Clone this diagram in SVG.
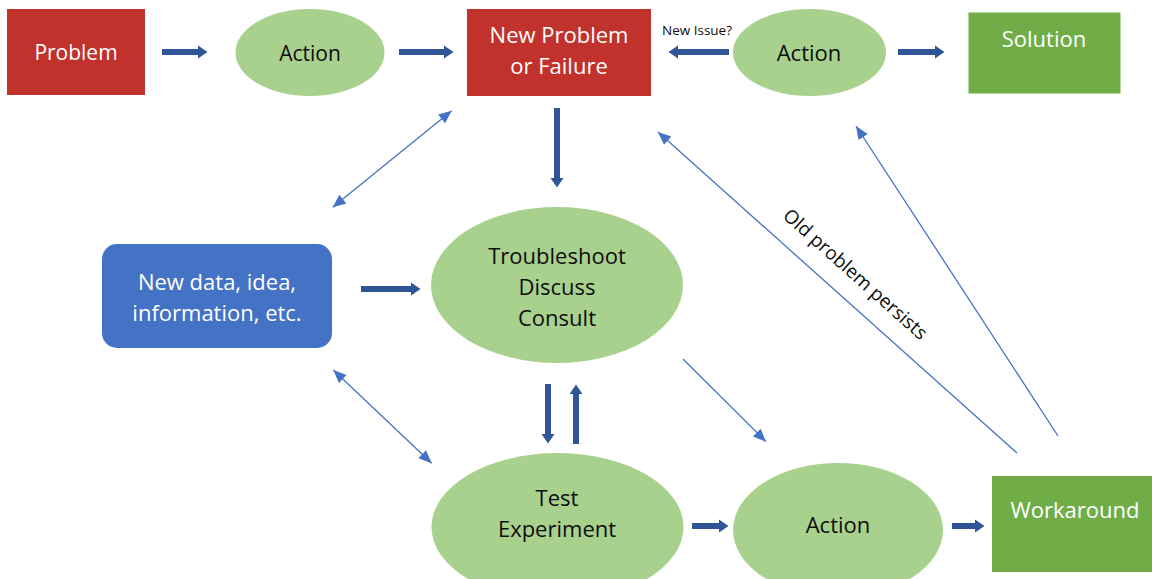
<svg xmlns="http://www.w3.org/2000/svg" width="1152" height="579" viewBox="0 0 1152 579">
  <style>
    text { font-family: "Open Sans", "Liberation Sans", sans-serif; font-size: 22px; text-anchor: middle; }
    .w { fill: #ffffff; }
    .k { fill: #0d0d0d; font-weight: 500; }
    .red { fill: #C0322B; }
    .grn { fill: #70AD47; }
    .oval { fill: #A9D18E; }
    .blk { stroke: #2F5597; stroke-width: 6; fill: none; marker-end: url(#bh); }
    .thin { stroke: #4472C4; stroke-width: 1.3; fill: none; marker-end: url(#th); }
    .both { marker-start: url(#th); }
  </style>
  <defs>
    <!-- heavy block arrow head -->
    <marker id="bh" markerUnits="userSpaceOnUse" viewBox="-1 -7 12 14" markerWidth="12" markerHeight="14" refX="0.5" refY="0" orient="auto">
      <path d="M0,-6.5 L9.5,0 L0,6.5 z" fill="#2F5597"/>
    </marker>
    <!-- thin connector head -->
    <marker id="th" markerUnits="userSpaceOnUse" viewBox="-14 -7 15 14" markerWidth="15" markerHeight="14" refX="0" refY="0" orient="auto-start-reverse">
      <path d="M-13,-5.5 L0,0 L-13,5.5 z" fill="#4472C4"/>
    </marker>
  </defs>

  <rect width="1152" height="579" fill="#ffffff"/>

  <g id="connectors">
    <line class="blk" x1="162" y1="52" x2="198.5" y2="52"/>
    <line class="blk" x1="399" y1="52" x2="444.5" y2="52"/>
    <line class="blk" x1="729" y1="52" x2="677.5" y2="52"/>
    <line class="blk" x1="898" y1="52" x2="935.5" y2="52"/>
    <line class="blk" x1="557" y1="108" x2="557" y2="178.5"/>
    <line class="blk" x1="361" y1="289" x2="411.5" y2="289"/>
    <line class="blk" x1="548" y1="384" x2="548" y2="434.5"/>
    <line class="blk" x1="576" y1="444" x2="576" y2="393.5"/>
    <line class="blk" x1="692" y1="526" x2="719.5" y2="526"/>
    <line class="blk" x1="952" y1="526" x2="975.5" y2="526"/>

    <line class="thin both" x1="332.7" y1="207.3" x2="451.7" y2="110.7"/>
    <line class="thin both" x1="333.3" y1="370" x2="431.7" y2="463.3"/>
    <line class="thin" x1="683" y1="359" x2="766" y2="441.7"/>
    <line class="thin" x1="1017" y1="453" x2="658" y2="132"/>
    <line class="thin" x1="1058" y1="436" x2="856" y2="126"/>

    <text class="k" x="697" y="35" style="font-size:13.5px">New Issue?</text>
    <text class="k" x="851" y="279" style="font-size:19px" transform="rotate(41.7 851 279)">Old problem persists</text>
  </g>

  <g id="problem">
    <rect class="red" x="7" y="9" width="138" height="86"/>
    <text class="w" x="76" y="60" style="font-size:21px">Problem</text>
  </g>

  <g id="action-1">
    <ellipse class="oval" cx="310" cy="52.5" rx="74.5" ry="43.5"/>
    <text class="k" x="310" y="61" style="font-size:21px">Action</text>
  </g>

  <g id="new-problem">
    <rect class="red" x="467" y="9" width="184" height="87"/>
    <text class="w" x="559" y="43">New Problem</text>
    <text class="w" x="559" y="74">or Failure</text>
  </g>

  <g id="action-2">
    <ellipse class="oval" cx="809.5" cy="52.5" rx="76.5" ry="43.5"/>
    <text class="k" x="809" y="61">Action</text>
  </g>

  <g id="solution">
    <rect class="grn" x="968.5" y="12.5" width="152" height="81"/>
    <text class="w" x="1044" y="47">Solution</text>
  </g>

  <g id="new-data">
    <rect x="102" y="244" width="230" height="104" rx="15" ry="15" fill="#4472C4"/>
    <text class="w" x="217" y="290">New data, idea,</text>
    <text class="w" x="217" y="321">information, etc.</text>
  </g>

  <g id="troubleshoot">
    <ellipse class="oval" cx="557" cy="285" rx="126" ry="78"/>
    <text class="k" x="557" y="264">Troubleshoot</text>
    <text class="k" x="557" y="295">Discuss</text>
    <text class="k" x="557" y="326">Consult</text>
  </g>

  <g id="test">
    <ellipse class="oval" cx="557.5" cy="527" rx="126" ry="74"/>
    <text class="k" x="557" y="506">Test</text>
    <text class="k" x="557" y="537">Experiment</text>
  </g>

  <g id="action-3">
    <ellipse class="oval" cx="838" cy="530" rx="105" ry="67"/>
    <text class="k" x="838" y="533">Action</text>
  </g>

  <g id="workaround">
    <rect class="grn" x="992" y="476" width="166" height="96"/>
    <text class="w" x="1075" y="518">Workaround</text>
  </g>
</svg>
